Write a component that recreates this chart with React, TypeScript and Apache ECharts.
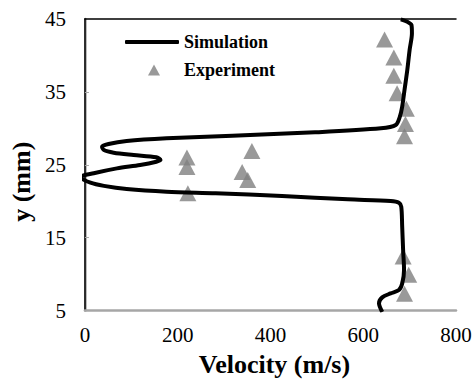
import React, { useEffect, useRef } from "react";
import * as echarts from "echarts";

const FONT = "Liberation Serif";

// Axis ticks and labels
const velocityTicks = [0, 200, 400, 600, 800];
const heightLabels = [5, 15, 25, 35, 45];
const heightTickMarks = [15, 25, 35];

// Simulated velocity profile (m/s) along the height (mm), bottom to top
const simVelocity = [
  641, 634, 641, 659, 677, 684, 688, 686, 684, 682, 677, 659, 567, 425, 282, 176,
  90, 41, 12, -10, 19, 69, 119, 154, 163, 154, 105, 62, 41, 37, 51, 90, 176, 318,
  496, 638, 670, 679, 684, 689, 695, 700, 705, 704, 695, 681,
];
const simHeight = [
  4.8, 6.0, 6.8, 7.35, 7.8, 8.7, 10.55, 13.3, 16.5, 19.24, 19.8, 20.03, 20.26, 20.71,
  21.08, 21.3, 21.67, 22.1, 22.54, 23.3, 23.83, 24.5, 24.97, 25.42, 25.65, 26.02,
  26.34, 26.66, 27.02, 27.48, 27.85, 28.26, 28.63, 28.99, 29.45, 30.0, 30.45, 31.6,
  32.97, 35.26, 38.0, 40.75, 43.04, 44.18, 44.63, 44.96,
];

// Measured velocity (m/s) and height (mm)
const expVelocity = [646, 666, 666, 673, 693, 691, 689, 220, 220, 360, 339, 351, 222, 686, 698, 689];
const expHeight = [42.2, 39.7, 37.2, 34.8, 32.7, 30.6, 28.9, 26.0, 24.7, 26.9, 24.0, 22.9, 21.1, 12.4, 9.9, 7.3];

const legendText = {
  fontFamily: FONT,
  fontWeight: "bold" as const,
  fontSize: 18,
  color: "#000",
};

export default function App() {
  const ref = useRef<HTMLDivElement>(null);

  useEffect(() => {
    const chart = echarts.init(ref.current!, null, { renderer: "svg" });
    chart.setOption({
      animation: false,
      backgroundColor: "#fff",
      textStyle: { fontFamily: FONT },
      grid: { left: 81, right: 19, top: 19, bottom: 74.5 },
      legend: [
        {
          data: [{ name: "Simulation", icon: "roundRect" }],
          left: 125,
          top: 33,
          padding: 0,
          itemWidth: 54,
          itemHeight: 4,
          textStyle: legendText,
        },
        {
          data: ["Experiment"],
          left: 148,
          top: 61,
          padding: 0,
          itemWidth: 12,
          itemHeight: 11,
          textStyle: { ...legendText, padding: [0, 0, 0, 19] },
        },
      ],
      xAxis: [
        {
          type: "value",
          position: "bottom",
          min: velocityTicks[0],
          max: velocityTicks[velocityTicks.length - 1],
          interval: 200,
          axisLine: { show: true, lineStyle: { color: "#a6a6a6", width: 2.5 } },
          axisTick: { show: false },
          splitLine: { show: false },
          axisLabel: { color: "#000", fontSize: 21, fontFamily: FONT, margin: 14 },
          name: "Velocity (m/s)",
          nameLocation: "middle",
          nameGap: 41,
          nameTextStyle: {
            color: "#000",
            fontFamily: FONT,
            fontWeight: "bold",
            fontSize: 26,
            padding: [0, 0, 0, 8],
          },
        },
        {
          type: "value",
          position: "top",
          min: velocityTicks[0],
          max: velocityTicks[velocityTicks.length - 1],
          axisLine: { show: true, lineStyle: { color: "#000", width: 1.5 } },
          axisTick: { show: false },
          axisLabel: { show: false },
          splitLine: { show: false },
        },
      ],
      yAxis: [
        {
          type: "value",
          position: "left",
          min: heightLabels[0],
          max: heightLabels[heightLabels.length - 1],
          axisLine: { show: true, lineStyle: { color: "#a6a6a6", width: 2.5 } },
          axisTick: {
            show: true,
            inside: true,
            length: 4,
            customValues: heightTickMarks,
            lineStyle: { color: "#a6a6a6", width: 1 },
          },
          splitLine: { show: false },
          axisLabel: {
            customValues: heightLabels,
            color: "#000",
            fontSize: 21,
            fontFamily: FONT,
            margin: 19,
          },
          name: "y (mm)",
          nameLocation: "middle",
          nameRotate: 90,
          nameGap: 47,
          nameTextStyle: {
            color: "#000",
            fontFamily: FONT,
            fontWeight: "bold",
            fontSize: 26,
            padding: [0, 34, 0, 0],
          },
        },
        {
          type: "value",
          position: "right",
          min: heightLabels[0],
          max: heightLabels[heightLabels.length - 1],
          axisLine: { show: true, lineStyle: { color: "#000", width: 1.5 } },
          axisTick: { show: false },
          axisLabel: { show: false },
          splitLine: { show: false },
        },
      ],
      series: [
        {
          name: "Simulation",
          type: "line",
          xAxisIndex: 0,
          yAxisIndex: 0,
          data: simVelocity.map((v, i) => [v, simHeight[i]]),
          symbol: "none",
          smooth: 0.3,
          clip: true,
          lineStyle: { color: "#000", width: 4, join: "round" },
          itemStyle: { color: "#000" },
        },
        {
          name: "Experiment",
          type: "scatter",
          xAxisIndex: 0,
          yAxisIndex: 0,
          data: expVelocity.map((v, i) => [v, expHeight[i]]),
          symbol: "triangle",
          symbolSize: [17, 16],
          itemStyle: { color: "#7f7f7f" },
        },
      ],
    });
    return () => chart.dispose();
  }, []);

  return (
    <div
      ref={ref}
      style={{ position: "fixed", left: 0, top: 0, width: 475, height: 385, background: "#fff" }}
    />
  );
}
